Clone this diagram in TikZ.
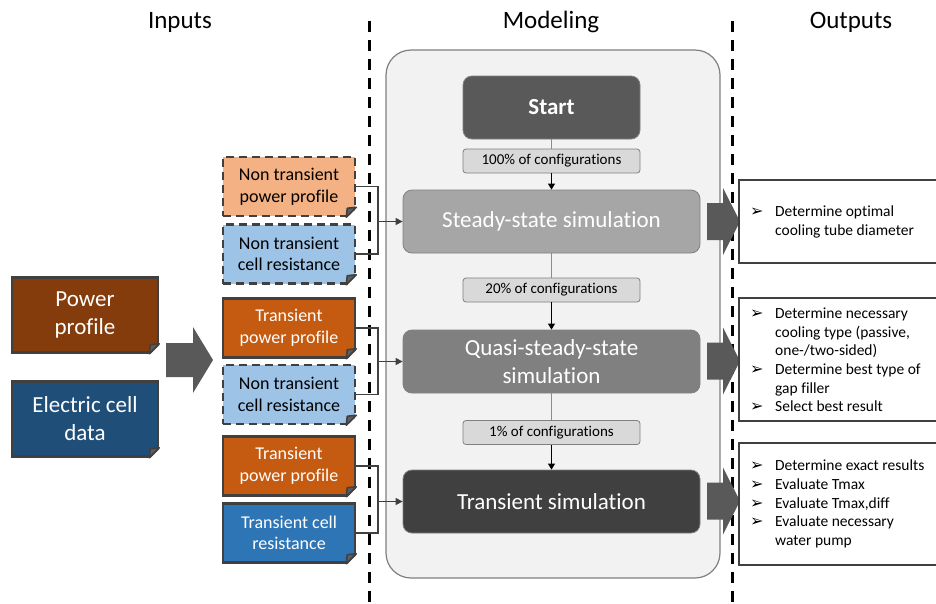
\documentclass[tikz,border=0pt]{standalone}
\usepackage{fontspec}
\setmainfont{Carlito}[Ligatures=NoCommon]
\newfontfamily\symfont{DejaVu Sans}
\usetikzlibrary{arrows.meta}
\definecolor{cbrown}{HTML}{843C0C}
\definecolor{cdblue}{HTML}{1F4E79}
\definecolor{clorange}{HTML}{F4B183}
\definecolor{clblue}{HTML}{9DC3E6}
\definecolor{corange}{HTML}{C55A11}
\definecolor{cblue}{HTML}{2E75B6}
\definecolor{cborder}{HTML}{404040}
\definecolor{cstart}{HTML}{595959}
\definecolor{csteady}{HTML}{A6A6A6}
\definecolor{cquasi}{HTML}{808080}
\definecolor{ctrans}{HTML}{404040}
\definecolor{ccont}{HTML}{F2F2F2}
\definecolor{clab}{HTML}{D9D9D9}
\definecolor{cgrayline}{HTML}{8C8C8C}
\newcommand\dogear[1]{%
  \fill[white] ([xshift=-11pt,yshift=-2.5pt]#1.south east) -- ([xshift=2.5pt,yshift=-2.5pt]#1.south east) -- ([xshift=2.5pt,yshift=11pt]#1.south east) -- cycle;
  \filldraw[fill=cborder!85!white, draw=cborder, line width=1.6pt, line join=round] ([xshift=-10pt]#1.south east) -- ([yshift=10pt]#1.south east) -- ([xshift=-9pt,yshift=9pt]#1.south east) -- cycle;}
\newcommand\bul{\makebox[25pt][l]{\symfont\fontsize{16}{15}\selectfont ➢}}
\begin{document}
\begin{tikzpicture}[x=1pt,y=-1pt,
  header/.style={font=\fontsize{25}{30}\selectfont},
  srcbox/.style={draw=cborder, line width=2.5pt, minimum width=146pt, minimum height=75pt, text=white, align=center, font=\fontsize{23}{28}\selectfont},
  inbox/.style={draw=cborder, line width=2.5pt, minimum width=132pt, minimum height=59pt, align=center, font=\fontsize{18}{21.6}\selectfont},
  ntbox/.style={inbox, dash pattern=on 8pt off 5pt, text=black},
  simbox/.style={rounded corners=9pt, draw=cquasi, line width=0.8pt, minimum width=297pt, minimum height=63pt, text=white, align=center, font=\fontsize{23}{28}\selectfont},
  labbox/.style={rounded corners=3pt, draw=cquasi, line width=0.8pt, fill=clab, minimum width=177pt, minimum height=24pt, font=\fontsize{15}{18}\selectfont},
  outbox/.style={draw=cborder, line width=2.8pt},
  outtext/.style={anchor=west, align=left, font=\fontsize{15.5}{18.6}\selectfont, inner sep=0pt},
  sepline/.style={line width=3pt, dash pattern=on 11pt off 8pt, black},
  conn/.style={draw=cborder, line width=1.3pt},
  bigarrow/.style={fill=cstart}
]
\clip (0,0) rectangle (936,603);
\fill[white] (0,0) rectangle (936,603);
% headers
\node[header] (hin) at (180,22) {Inputs};
\node[header] (hmod) at (551,22) {Modeling};
\node[header] (hout) at (851,22) {Outputs};
% modeling container
\filldraw[fill=ccont, draw=cquasi, line width=1.2pt, rounded corners=25pt] (386,50) rectangle (720,578);
% separators
\draw[sepline] (369,21) -- (369,610);
\draw[sepline] (732,21) -- (732,610);
% source boxes
\node[srcbox, fill=cbrown] (pp) at (85,315) {Power\\profile};
\node[srcbox, fill=cdblue] (ec) at (85,419) {Electric cell\\data};
\dogear{pp}\dogear{ec}
% big input arrow
\fill[bigarrow] (166,343) -- (193,343) -- (193,327) -- (213,360) -- (193,393) -- (193,377) -- (166,377) -- cycle;
% input boxes
\node[ntbox, fill=clorange] (np1) at (289,186.5) {Non transient\\power profile};
\node[ntbox, fill=clblue] (nr1) at (289,254) {Non transient\\cell resistance};
\node[inbox, fill=corange, text=white] (tp2) at (289,328) {Transient\\power profile};
\node[ntbox, fill=clblue] (nr2) at (289,394.5) {Non transient\\cell resistance};
\node[inbox, fill=corange, text=white] (tp3) at (289,466) {Transient\\power profile};
\node[inbox, fill=cblue, text=white] (tr3) at (289,533) {Transient cell\\resistance};
\dogear{np1}\dogear{nr1}\dogear{tp2}\dogear{nr2}\dogear{tp3}\dogear{tr3}
% simulation boxes
\node[simbox, fill=cstart, font=\fontsize{23}{28}\selectfont\bfseries, minimum width=177pt] (start) at (551.5,107.5) {Start};
\node[simbox, fill=csteady] (steady) at (551.5,221.5) {Steady-state simulation};
\node[simbox, fill=cquasi] (quasi) at (551.5,361.5) {Quasi-steady-state\\simulation};
\node[simbox, fill=ctrans] (trans) at (551.5,501.5) {Transient simulation};
\node[labbox] (lab1) at (551.5,161) {100\% of configurations};
\node[labbox] (lab2) at (551.5,290) {20\% of configurations};
\node[labbox] (lab3) at (551.5,432.5) {1\% of configurations};
\draw[cgrayline, line width=0.8pt] (start) -- (lab1);
\draw[line width=0.8pt, -{Triangle[length=6pt,width=7pt]}] (lab1) -- (steady);
\draw[cgrayline, line width=0.8pt] (steady) -- (lab2);
\draw[line width=0.8pt, -{Triangle[length=6pt,width=7pt]}] (lab2) -- (quasi);
\draw[cgrayline, line width=0.8pt] (quasi) -- (lab3);
\draw[line width=0.8pt, -{Triangle[length=6pt,width=7pt]}] (lab3) -- (trans);
% bracket connectors
\coordinate (j1) at (378,221.5);
\coordinate (j2) at (378,361.5);
\coordinate (j3) at (378,501.5);
\draw[conn] (np1.east) -| (j1); \draw[conn] (nr1.east) -| (j1);
\draw[conn, -{Triangle[length=7pt,width=7pt]}] (j1) -- (steady.west);
\draw[conn] (tp2.east) -| (j2); \draw[conn] (nr2.east) -| (j2);
\draw[conn, -{Triangle[length=7pt,width=7pt]}] (j2) -- (quasi.west);
\draw[conn] (tp3.east) -| (j3); \draw[conn] (tr3.east) -| (j3);
\draw[conn, -{Triangle[length=7pt,width=7pt]}] (j3) -- (trans.west);
% output arrows
\foreach \yc in {221.5,361,501}{
  \fill[bigarrow] (707,\yc-18.5) -- (723,\yc-18.5) -- (723,\yc-33.5) -- (740,\yc) -- (723,\yc+33.5) -- (723,\yc+18.5) -- (707,\yc+18.5) -- cycle;
}
% output boxes
\filldraw[outbox, fill=white] (739,180) rectangle (950,263);
\filldraw[outbox, fill=white] (739,298) rectangle (950,421);
\filldraw[outbox, fill=white] (739,443) rectangle (950,565);
\node[outtext] (o1) at (750,222) {\bul Determine optimal\\\hspace*{25pt}cooling tube diameter};
\node[outtext] (o2) at (750,360) {\bul Determine necessary\\\hspace*{25pt}cooling type (passive,\\\hspace*{25pt}one-/two-sided)\\\bul Determine best type of\\\hspace*{25pt}gap filler\\\bul Select best result};
\node[outtext] (o3) at (750,504) {\bul Determine exact results\\\bul Evaluate Tmax\\\bul Evaluate Tmax,diff\\\bul Evaluate necessary\\\hspace*{25pt}water pump};
\end{tikzpicture}
\end{document}
